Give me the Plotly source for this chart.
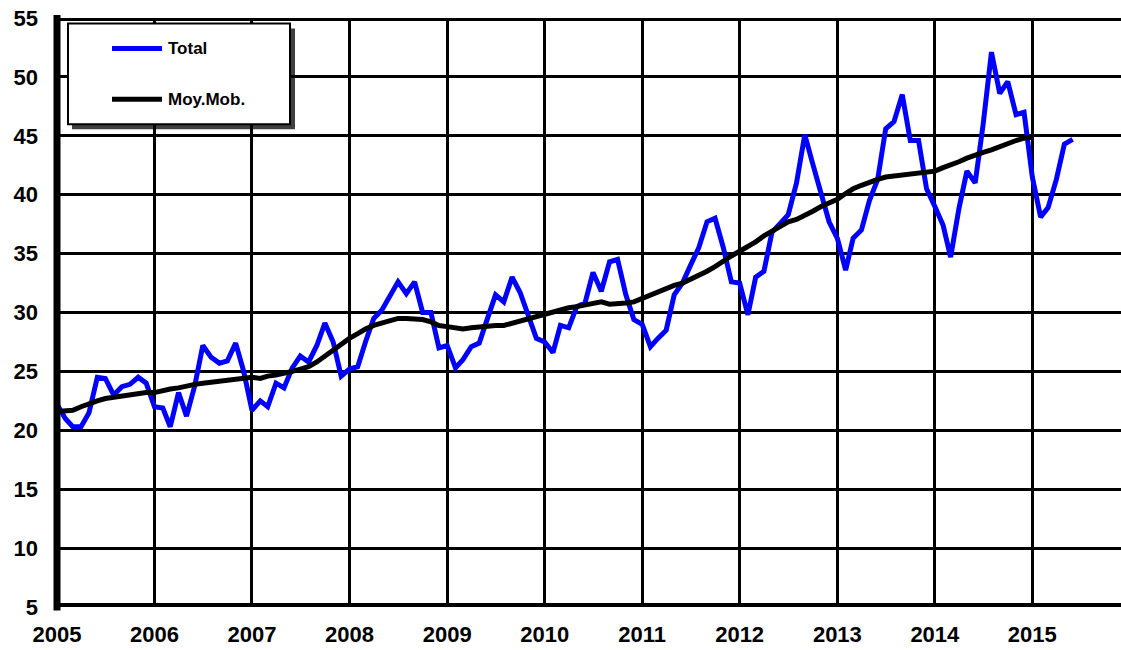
import pandas as pd
import plotly.graph_objects as go

# ---- data (monthly, Jan 2005 onwards) ----
start_month = "2005-01-01"
total = [
    22.2, 21.0, 20.3, 20.3, 21.5, 24.5, 24.4, 23.0, 23.7, 23.9, 24.5, 24.0,
    22.0, 21.9, 20.3, 23.2, 21.2, 23.8, 27.2, 26.2, 25.7, 25.9, 27.4, 25.0,
    21.7, 22.5, 22.0, 24.0, 23.6, 25.3, 26.3, 25.8, 27.2, 29.1, 27.5, 24.6,
    25.2, 25.4, 27.5, 29.5, 30.2, 31.5, 32.6, 31.6, 32.6, 30.0, 30.0, 27.0,
    27.2, 25.3, 26.0, 27.1, 27.4, 29.5, 31.5, 30.9, 33.0, 31.7, 29.8, 27.8,
    27.5, 26.6, 28.9, 28.7, 30.5, 30.8, 33.4, 31.8, 34.3, 34.5, 31.5, 29.4,
    29.0, 27.1, 27.8, 28.5, 31.5, 32.5, 34.0, 35.5, 37.7, 38.0, 35.5, 32.6,
    32.5, 29.8, 33.0, 33.5, 36.8, 37.6, 38.3, 41.0, 45.1, 42.6, 40.2, 37.7,
    36.3, 33.6, 36.3, 37.0, 39.5, 41.3, 45.6, 46.2, 48.5, 44.6, 44.6, 40.5,
    39.0, 37.4, 34.7, 38.8, 42.0, 41.0, 46.0, 52.1, 48.6, 49.6, 46.8, 47.0,
    41.5, 38.1, 38.9, 41.3, 44.3, 44.7,
]
moy_mob = [
    21.6, 21.6, 21.7, 22.0, 22.3, 22.5, 22.7, 22.8, 22.9, 23.1, 23.2, 23.2,
    23.2, 23.4, 23.5, 23.6, 23.8, 23.9, 24.0, 24.1, 24.1, 24.3, 24.4, 24.5,
    24.5, 24.4, 24.6, 24.7, 24.8, 25.0, 25.2, 25.4, 25.8, 26.3, 26.8, 27.3,
    27.8, 28.2, 28.6, 28.9, 29.1, 29.3, 29.5, 29.5, 29.5, 29.4, 29.2, 28.9,
    28.8, 28.7, 28.6, 28.7, 28.8, 28.8, 28.9, 28.9, 29.1, 29.3, 29.5, 29.7,
    29.9, 30.0, 30.2, 30.4, 30.5, 30.6, 30.8, 30.9, 30.7, 30.7, 30.8, 30.9,
    31.2, 31.4, 31.7, 32.0, 32.3, 32.5, 32.8, 33.1, 33.5, 33.9, 34.4, 34.8,
    35.2, 35.6, 36.0, 36.5, 36.9, 37.3, 37.7, 37.9, 38.2, 38.6, 39.0, 39.3,
    39.6, 40.1, 40.5, 40.8, 41.1, 41.3, 41.5, 41.6, 41.7, 41.8, 41.8, 41.9,
    42.0, 42.3, 42.5, 42.8, 43.1, 43.4, 43.6, 43.8, 44.1, 44.3, 44.6, 44.8,
    44.9,
]
year_ticks = [str(y) for y in range(2005, 2016)]
y_ticks = list(range(5, 56, 5))
series_names = ["Total", "Moy.Mob."]

dates_total = pd.date_range(start_month, periods=len(total), freq="MS")
dates_mm = pd.date_range(start_month, periods=len(moy_mob), freq="MS")

W, H = 1121, 650
ML, MR, MT, MB = 57, 0, 17.5, 42.5
PW, PH = W - ML - MR, H - MT - MB


def px(x):
    return (x - ML) / PW


def py(y):
    return (H - MB - y) / PH


FONT = "Liberation Sans, Arial, sans-serif"

fig = go.Figure()
fig.add_trace(go.Scatter(x=dates_total, y=total, mode="lines", name=series_names[0],
                         line=dict(color="#0000FF", width=5), showlegend=False))
fig.add_trace(go.Scatter(x=dates_mm, y=moy_mob, mode="lines", name=series_names[1],
                         line=dict(color="#000000", width=5), showlegend=False))

shapes = []
# frame lines (thick left, bottom and top)
shapes.append(dict(type="line", xref="paper", yref="y", x0=0, x1=1, y0=5, y1=5,
                   line=dict(color="black", width=8), layer="above"))
shapes.append(dict(type="line", xref="paper", yref="y", x0=0, x1=1, y0=55, y1=55,
                   line=dict(color="black", width=6), layer="above"))
shapes.append(dict(type="line", xref="paper", yref="paper", x0=0, x1=0, y0=-0.006, y1=1.005,
                   line=dict(color="black", width=7), layer="above"))
# legend box with shadow
shapes.append(dict(type="rect", xref="paper", yref="paper",
                   x0=px(72), x1=px(295), y0=py(129), y1=py(28),
                   fillcolor="rgba(0,0,0,0.75)", line=dict(width=0), layer="above"))
shapes.append(dict(type="rect", xref="paper", yref="paper",
                   x0=px(68), x1=px(290), y0=py(124), y1=py(23),
                   fillcolor="white", line=dict(color="black", width=2), layer="above"))
shapes.append(dict(type="line", xref="paper", yref="paper",
                   x0=px(112), x1=px(162), y0=py(48), y1=py(48),
                   line=dict(color="#0000FF", width=5), layer="above"))
shapes.append(dict(type="line", xref="paper", yref="paper",
                   x0=px(112), x1=px(162), y0=py(99), y1=py(99),
                   line=dict(color="#000000", width=5), layer="above"))

annotations = [
    dict(xref="paper", yref="paper", x=px(166), y=py(48), text=series_names[0],
         showarrow=False, xanchor="left", yanchor="middle",
         font=dict(family=FONT, size=17, color="black", weight="bold")),
    dict(xref="paper", yref="paper", x=px(166), y=py(99), text=series_names[1],
         showarrow=False, xanchor="left", yanchor="middle",
         font=dict(family=FONT, size=17, color="black", weight="bold")),
]

fig.update_layout(
    width=W, height=H,
    margin=dict(l=ML, r=MR, t=MT, b=MB, pad=0, autoexpand=False),
    plot_bgcolor="white", paper_bgcolor="white",
    shapes=shapes, annotations=annotations,
    showlegend=False,
)
fig.update_xaxes(
    type="date",
    range=["2005-01-01", "2015-11-29"],
    tickmode="array",
    tickvals=[f"{y}-01-01" for y in year_ticks],
    ticktext=year_ticks,
    showgrid=True, gridcolor="black", gridwidth=3,
    showline=False, zeroline=False, ticks="",
    automargin=False,
    ticklabelstandoff=12,
    tickfont=dict(family=FONT, size=22, color="black", weight="bold"),
)
fig.update_yaxes(
    range=[5, 55],
    tickmode="array", tickvals=y_ticks,
    showgrid=True, gridcolor="black", gridwidth=3,
    showline=False, zeroline=False, ticks="",
    automargin=False,
    ticklabelstandoff=18,
    tickfont=dict(family=FONT, size=22, color="black", weight="bold"),
)

# remove the default page margin so the figure sits at the window's corner
fig.write_html(
    "out.html",
    config={"displayModeBar": False},
    post_script="document.body.style.margin='0';document.body.style.overflow='hidden';",
)
